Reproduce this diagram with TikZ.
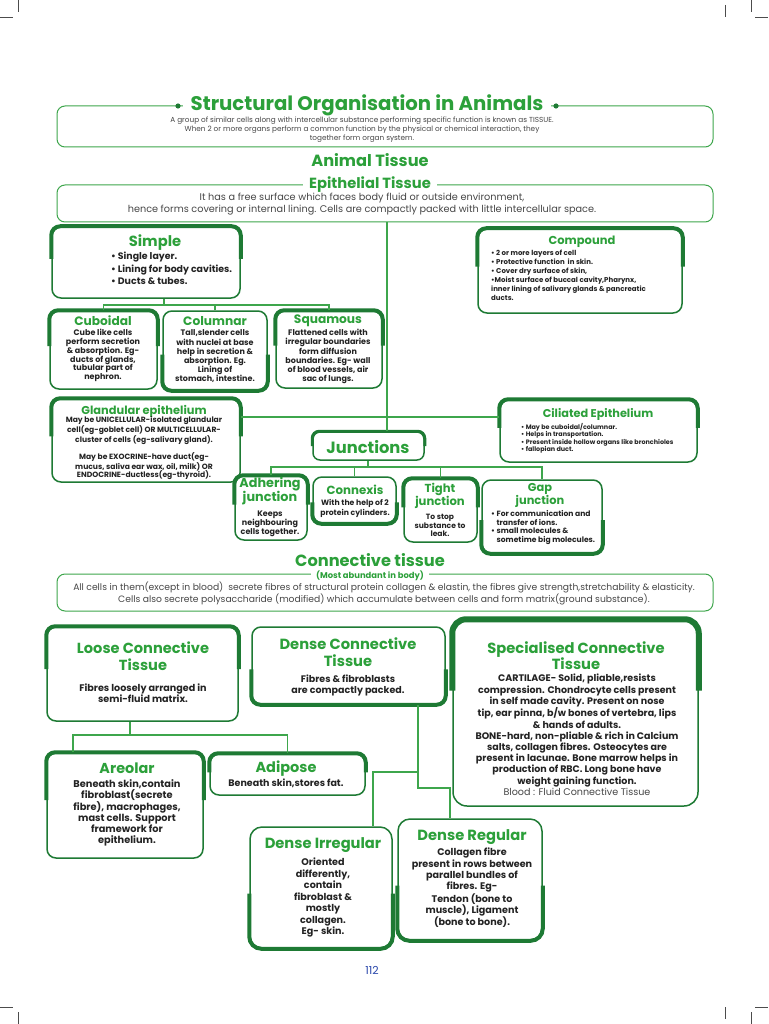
\documentclass[tikz,border=0pt]{standalone}
\usepackage{fontspec}
\setmainfont{Poppins}
\usetikzlibrary{calc}
\definecolor{tgreen}{RGB}{44,160,58}
\definecolor{bgreen}{RGB}{30,122,52}
\definecolor{lgreen}{RGB}{62,166,76}
\definecolor{txt}{RGB}{35,35,35}
\definecolor{greytxt}{RGB}{70,70,70}
\definecolor{pgblue}{RGB}{40,70,170}
\newcommand\topbars[1]{\draw[barline] ($(#1.north west)!0.45!(#1.south west)$) -- (#1.north west) -- (#1.north east) -- ($(#1.north east)!0.45!(#1.south east)$);}
\newcommand\botbars[1]{\draw[barline] ($(#1.south west)!0.45!(#1.north west)$) -- (#1.south west) -- (#1.south east) -- ($(#1.south east)!0.45!(#1.north east)$);}
\tikzset{
  box/.style={draw=bgreen, line width=1.5pt, rounded corners=9pt, fill=white, inner sep=0pt},
  thinbox/.style={draw=lgreen, line width=1pt, rounded corners=8pt, inner sep=0pt},
  barline/.style={draw=bgreen, line width=4pt, rounded corners=9pt},
  conn/.style={draw=lgreen, line width=1.1pt},
  ttl/.style={text=tgreen, align=center, inner sep=1pt, font=\bfseries\fontsize{#1}{#1}\selectfont},
  ttltwo/.style 2 args={text=tgreen, align=center, inner sep=1pt, font=\bfseries\fontsize{#1}{#2}\selectfont},
  bod/.style 2 args={text=txt, align=center, inner sep=0pt, font=\bfseries\fontsize{#1}{#2}\selectfont},
  bodl/.style 2 args={text=txt, align=left, inner sep=0pt, anchor=west, font=\bfseries\fontsize{#1}{#2}\selectfont},
  reg/.style 2 args={text=greytxt, align=center, inner sep=0pt, font=\fontsize{#1}{#2}\selectfont},
  crop/.style={draw=black!70, line width=0.6pt}
}
\begin{document}
\begin{tikzpicture}[x=1pt,y=-1pt]
\useasboundingbox (0,0) rectangle (768,1024);
\fill[white] (0,0) rectangle (768,1024);

% crop marks
\draw[crop] (18.5,0) -- (18.5,12);
\draw[crop] (0,17) -- (13,17);
\draw[crop] (725,5) -- (725,17);
\draw[crop] (751,0) -- (751,12);
\draw[crop] (755,17) -- (768,17);
\draw[crop] (0,1007) -- (13,1007);
\draw[crop] (18.5,1012) -- (18.5,1024);
\draw[crop] (725,1007) -- (725,1019);
\draw[crop] (751,1012) -- (751,1024);
\draw[crop] (755,1007) -- (768,1007);

% ---------- header ----------
\node[thinbox, minimum width=656pt, minimum height=41pt] (intro) at (385,126.5) {};
\node[ttl=19.7, fill=white, minimum width=368pt] (title) at (367,105) {Structural Organisation in Animals};
\fill[bgreen] (178,106) circle (2.6pt);
\fill[bgreen] (556,106) circle (2.6pt);
\node[reg={7.3}{9}] (introtxt) at (362,130) {A group of similar cells along with intercellular substance performing specific function is known as TISSUE.\\When 2 or more organs perform a common function by the physical or chemical interaction, they\\together form organ system.};

\node[ttl=16.2] (animal) at (370,160) {Animal Tissue};

\node[thinbox, minimum width=656pt, minimum height=37pt] (epi) at (385,203.5) {};
\node[ttl=14.7, fill=white, inner xsep=6pt] (epititle) at (370,185) {Epithelial Tissue};
\node[reg={9.7}{12}] (epitxt) at (362,204) {It has a free surface which faces body fluid or outside environment,\\hence forms covering or internal lining. Cells are compactly packed with little intercellular space.};

% ---------- epithelial boxes ----------
\node[box, minimum width=188pt, minimum height=71pt] (simple) at (146,262.5) {};
\node[box, minimum width=107pt, minimum height=78pt] (cuboidal) at (103.5,350) {};
\node[box, minimum width=104pt, minimum height=79pt] (columnar) at (215,350.5) {};
\node[box, minimum width=106pt, minimum height=77pt] (squamous) at (329,349.5) {};
\node[box, minimum width=204pt, minimum height=84pt] (compound) at (580,271) {};
\node[box, minimum width=188pt, minimum height=83pt] (glandular) at (146,440.5) {};
\node[box, minimum width=197pt, minimum height=62pt] (ciliated) at (598.5,431) {};
\node[box, minimum width=111pt, minimum height=28pt, rounded corners=7pt] (junctions) at (368.5,446) {};
\node[box, minimum width=72pt, minimum height=64pt] (adhering) at (271,508) {};
\node[box, minimum width=83pt, minimum height=46pt] (connexis) at (354.5,500) {};
\node[box, minimum width=73pt, minimum height=63pt] (tight) at (440.5,510.5) {};
\node[box, minimum width=120pt, minimum height=73pt] (gap) at (542,516.5) {};

\topbars{simple}
\topbars{cuboidal}
\botbars{columnar}
\topbars{squamous}
\topbars{compound}
\topbars{glandular}
\topbars{ciliated}
\draw[barline, line width=3pt, rounded corners=7pt] ($(junctions.north west)!0.5!(junctions.south west)$) -- (junctions.north west) -- (junctions.north east) -- ($(junctions.north east)!0.5!(junctions.south east)$);
\topbars{adhering}
\botbars{connexis}
\topbars{tight}
\botbars{gap}

% connectors epithelial
\coordinate (ej) at (387,417);
\draw[conn] (epi.south -| ej) -- (junctions.north -| ej);
\draw[conn] (glandular.east |- ej) -- (ciliated.west |- ej);
\coordinate (s1) at (164,305);
\draw[conn] (simple.south -| s1) -- (s1);
\draw[conn] (cuboidal.north) |- (s1) -| (squamous.north);
\draw[conn] (columnar.north) -- (columnar.north |- s1);
\coordinate (j1) at (368,467);
\draw[conn] (junctions.south -| j1) -- (j1);
\draw[conn] (adhering.north) |- (j1) -| (gap.north);
\draw[conn] (connexis.north) -- (connexis.north |- j1);
\draw[conn] (tight.north) -- (tight.north |- j1);

% texts epithelial
\node[ttl=14.7] (simplet) at (155,243) {Simple};
\node[bodl={9.4}{12.3}] (simpleb) at (111,268.5) {• Single layer.\\• Lining for body cavities.\\• Ducts \& tubes.};

\node[ttl=12.2] (cuboidalt) at (103,321) {Cuboidal};
\node[bod={8}{8.9}] (cuboidalb) at (103,355.5) {Cube like cells\\perform secretion\\\& absorption. Eg-\\ducts of glands,\\tubular part of\\nephron.};
\node[ttl=12.2] (columnart) at (215,321) {Columnar};
\node[bod={8}{9.2}] (columnarb) at (215,356.5) {Tall,slender cells\\with nuclei at base\\help in secretion \&\\absorption. Eg.\\Lining of\\stomach, intestine.};
\node[ttl=12.2] (squamoust) at (328,321) {Squamous};
\node[bod={8}{9.2}] (squamousb) at (328,356.5) {Flattened cells with\\irregular boundaries\\form diffusion\\boundaries. Eg- wall\\of blood vessels, air\\sac of lungs.};

\node[ttl=11.5] (compoundt) at (582,241.5) {Compound};
\node[bodl={7}{9}] (compoundb) at (491,275) {• 2 or more layers of cell\\• Protective function\ \ in skin.\\• Cover dry surface of skin,\\•Moist surface of buccal cavity,Pharynx,\\inner lining of salivary glands \& pancreatic\\ducts.};

\node[ttl=11.4] (glandulart) at (144,411) {Glandular epithelium};
\node[bod={7.6}{8.7}] (glandularb) at (144,448) {May be UNICELLULAR-isolated glandular\\cell(eg-goblet cell) OR MULTICELLULAR-\\cluster of cells (eg-salivary gland).\\[7pt]May be EXOCRINE-have duct(eg-\\mucus, saliva ear wax, oil, milk) OR\\ENDOCRINE-ductless(eg-thyroid).};

\node[ttl=11.3] (ciliatedt) at (598,414) {Ciliated Epithelium};
\node[bodl={6.4}{7.4}] (ciliatedb) at (521,438.5) {• May be cuboidal/columnar.\\• Helps in transportation.\\• Present inside hollow organs like bronchioles\\• fallopian duct.};

\node[ttl=16.3] (junctionst) at (368,447) {Junctions};

\node[ttltwo={12.8}{14}] (adheringt) at (270,491.5) {Adhering\\junction};
\node[bod={8}{9}] (adheringb) at (270,523.5) {Keeps\\neighbouring\\cells together.};
\node[ttl=11.8] (connexist) at (355,489.5) {Connexis};
\node[bod={7.7}{9.5}] (connexisb) at (355,508.5) {With the help of 2\\protein cylinders.};
\node[ttltwo={11.6}{13.5}] (tightt) at (440,496) {Tight\\junction};
\node[bod={7.6}{8.5}] (tightb) at (440,525.5) {To stop\\substance to\\leak.};
\node[ttltwo={11.4}{13}] (gapt) at (540,495.5) {Gap\\junction};
\node[bodl={7.6}{8.7}] (gapb) at (491,527.5) {• For communication and\\\hphantom{• }transfer of ions.\\• small molecules \&\\\hphantom{• }sometime big molecules.};

% ---------- connective ----------
\node[thinbox, minimum width=656pt, minimum height=37pt] (conbox) at (385,592.5) {};
\node[ttl=16.2] (contitle) at (370,560.5) {Connective tissue};
\node[ttl=8.4, fill=white, inner xsep=5pt, inner ysep=0.5pt] (consub) at (370,575.5) {(Most abundant in body)};
\node[reg={9.2}{10.8}] (contxt) at (384,593) {All cells in them(except in blood)\ \ secrete fibres of structural protein collagen \& elastin, the fibres give strength,stretchability \& elasticity.\\Cells also secrete polysaccharide (modified) which accumulate between cells and form matrix(ground substance).};

\node[box, minimum width=191pt, minimum height=94pt] (loose) at (142.5,674) {};
\node[box, minimum width=193pt, minimum height=77pt] (dense) at (348.5,665.5) {};
\node[box, minimum width=245pt, minimum height=186pt, rounded corners=14pt] (special) at (575.5,713) {};
\node[box, minimum width=156pt, minimum height=105pt] (areolar) at (125,805.5) {};
\node[box, minimum width=155pt, minimum height=41pt] (adipose) at (287.5,774.5) {};
\node[box, minimum width=142pt, minimum height=121pt, rounded corners=12pt] (dirr) at (321,887.5) {};
\node[box, minimum width=144pt, minimum height=121pt, rounded corners=12pt] (dreg) at (470,879.5) {};

\topbars{loose}
\botbars{dense}
\draw[barline, line width=6pt, rounded corners=14pt] ($(special.north west)!0.38!(special.south west)$) -- (special.north west) -- (special.north east) -- ($(special.north east)!0.38!(special.south east)$);
\topbars{areolar}
\topbars{adipose}
\draw[barline, rounded corners=12pt] ($(dirr.south west)!0.45!(dirr.north west)$) -- (dirr.south west) -- (dirr.south east) -- ($(dirr.south east)!0.45!(dirr.north east)$);
\draw[barline, rounded corners=12pt] ($(dreg.south west)!0.45!(dreg.north west)$) -- (dreg.south west) -- (dreg.south east) -- ($(dreg.south east)!0.45!(dreg.north east)$);

% connectors connective
\coordinate (l1) at (130,735);
\coordinate (la) at (73,735);
\coordinate (lb) at (287.5,735);
\draw[conn] (loose.south -| l1) -- (l1);
\draw[conn] (areolar.north -| la) -- (la) -- (lb) -- (adipose.north);
\coordinate (d1) at (418,772);
\coordinate (d2) at (418,788);
\coordinate (d3) at (373,772);
\coordinate (d4) at (450,788);
\draw[conn] (dense.south -| d1) -- (d2) -- (d4) -- (dreg.north -| d4);
\draw[conn] (d1) -- (d3) -- (dirr.north -| d3);

% texts connective
\node[ttltwo={14.6}{17}] (looset) at (143,656.5) {Loose Connective\\Tissue};
\node[bod={9.6}{11}] (looseb) at (143,693.5) {Fibres loosely arranged in\\semi-fluid matrix.};
\node[ttltwo={14.7}{17}] (denset) at (348,652.5) {Dense Connective\\Tissue};
\node[bod={9.5}{11}] (denseb) at (348,685.5) {Fibres \& fibroblasts\\are compactly packed.};
\node[ttltwo={14.7}{16.5}] (specialt) at (576,655.5) {Specialised Connective\\Tissue};
\node[bod={9.5}{11.2}] (specialb) at (577,730.5) {CARTILAGE- Solid, pliable,resists\\compression. Chondrocyte cells present\\in self made cavity. Present on nose\\tip, ear pinna, b/w bones of vertebra, lips\\\& hands of adults.\\BONE-hard, non-pliable \& rich in Calcium\\salts, collagen fibres. Osteocytes are\\present in lacunae. Bone marrow helps in\\production of RBC. Long bone have\\weight gaining function.};
\node[reg={9.6}{11}] (blood) at (577,792) {Blood : Fluid Connective Tissue};

\node[ttl=14.4] (areolart) at (127,768.5) {Areolar};
\node[bod={9.8}{11.2}] (areolarb) at (127,813) {Beneath skin,contain\\fibroblast(secrete\\fibre), macrophages,\\mast cells. Support\\framework for\\epithelium.};
\node[ttl=14.5] (adiposet) at (286,768.5) {Adipose};
\node[bod={9.5}{10}] (adiposeb) at (286,783.5) {Beneath skin,stores fat.};
\node[ttl=14.7] (dirrt) at (323,845) {Dense Irregular};
\node[bod={9.6}{11.5}] (dirrb) at (323,897.5) {Oriented\\differently,\\contain\\fibroblast \&\\mostly\\collagen.\\Eg- skin.};
\node[ttl=14.7] (dregt) at (472,837) {Dense Regular};
\node[bod={9.6}{11.3}] (dregb) at (472,888) {Collagen fibre\\present in rows between\\parallel bundles of\\fibres. Eg-\\Tendon (bone to\\muscle), Ligament\\(bone to bone).};

\node[text=pgblue, font=\fontsize{11}{11}\selectfont, inner sep=0pt] (pagenum) at (372,970) {112};
\end{tikzpicture}
\end{document}
